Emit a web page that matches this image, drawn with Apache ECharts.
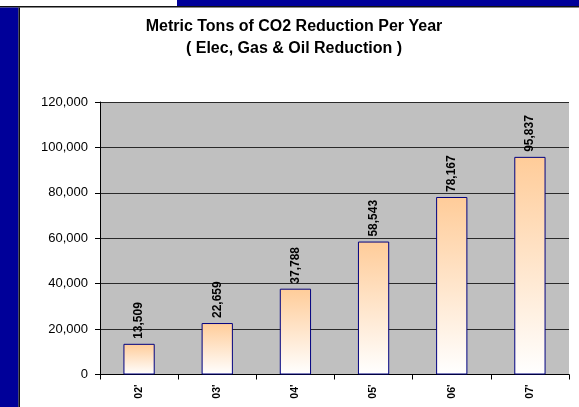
<!DOCTYPE html>
<html>
<head>
<meta charset="utf-8">
<script src="https://cdn.jsdelivr.net/npm/echarts@6/dist/echarts.min.js"></script>
<style>
  html, body { margin: 0; padding: 0; background: #fff; }
  #chart { width: 579px; height: 407px; }
</style>
</head>
<body>
<div id="chart"></div>
<script>
// Yearly CO2 reduction (metric tons)
const years = ["02'", "03'", "04'", "05'", "06'", "07'"];
const reductions = [13509, 22659, 37788, 58543, 78167, 95837];
const titleLines = ['Metric Tons of CO2 Reduction Per Year', '( Elec, Gas & Oil Reduction )'];

const FONT = '"Liberation Sans", Arial, sans-serif';
const fmt = v => Number(v).toLocaleString('en-US');

const chart = echarts.init(document.getElementById('chart'), null, { renderer: 'canvas' });

chart.setOption({
  animation: false,
  backgroundColor: '#ffffff',
  title: {
    text: titleLines.join('\n'),
    left: 289,
    top: 11,
    textAlign: 'center',
    textStyle: {
      fontFamily: FONT,
      fontSize: 16,
      fontWeight: 'bold',
      color: '#000',
      lineHeight: 22
    }
  },
  graphic: [
    // slide frame: navy strip along the top right and down the left edge
    { type: 'rect', shape: { x: 177, y: 0, width: 402, height: 6 }, style: { fill: '#000099' }, silent: true },
    { type: 'rect', shape: { x: 0, y: 6, width: 579, height: 1.5 }, style: { fill: '#111111' }, silent: true },
    { type: 'rect', shape: { x: 0, y: 7.5, width: 18.5, height: 400 }, style: { fill: '#000099' }, silent: true },
    { type: 'rect', shape: { x: 18.5, y: 7.5, width: 1.5, height: 400 }, style: { fill: '#111111' }, silent: true }
  ],
  grid: {
    left: 100,
    right: 10,
    top: 102,
    bottom: 32.5,
    show: true,
    backgroundColor: '#c0c0c0',
    borderWidth: 0
  },
  xAxis: {
    type: 'category',
    data: years,
    boundaryGap: true,
    axisLine: { show: true, lineStyle: { color: '#000', width: 1 } },
    axisTick: { show: true, length: 5, lineStyle: { color: '#000' } },
    axisLabel: {
      rotate: 90,
      margin: 10,
      fontFamily: FONT,
      fontSize: 10.5,
      fontWeight: 'bold',
      color: '#000'
    },
    splitLine: { show: false }
  },
  yAxis: {
    type: 'value',
    min: 0,
    max: 120000,
    interval: 20000,
    axisLine: { show: true, lineStyle: { color: '#000', width: 1 } },
    axisTick: { show: true, length: 5, lineStyle: { color: '#000' } },
    axisLabel: {
      margin: 12,
      fontFamily: FONT,
      fontSize: 13,
      color: '#000',
      formatter: fmt
    },
    splitLine: { show: true, lineStyle: { color: '#2a2a2a', width: 1 } }
  },
  series: [{
    type: 'bar',
    data: reductions,
    barWidth: '40%',
    itemStyle: {
      color: new echarts.graphic.LinearGradient(0, 0, 0, 1, [
        { offset: 0, color: '#ffcc99' },
        { offset: 1, color: '#ffffff' }
      ]),
      borderColor: '#000080',
      borderWidth: 1
    },
    label: {
      show: true,
      position: 'top',
      distance: 5,
      rotate: 90,
      align: 'left',
      verticalAlign: 'middle',
      fontFamily: FONT,
      fontSize: 12,
      fontWeight: 'bold',
      color: '#000',
      formatter: p => fmt(p.value)
    }
  }]
});
</script>
</body>
</html>
